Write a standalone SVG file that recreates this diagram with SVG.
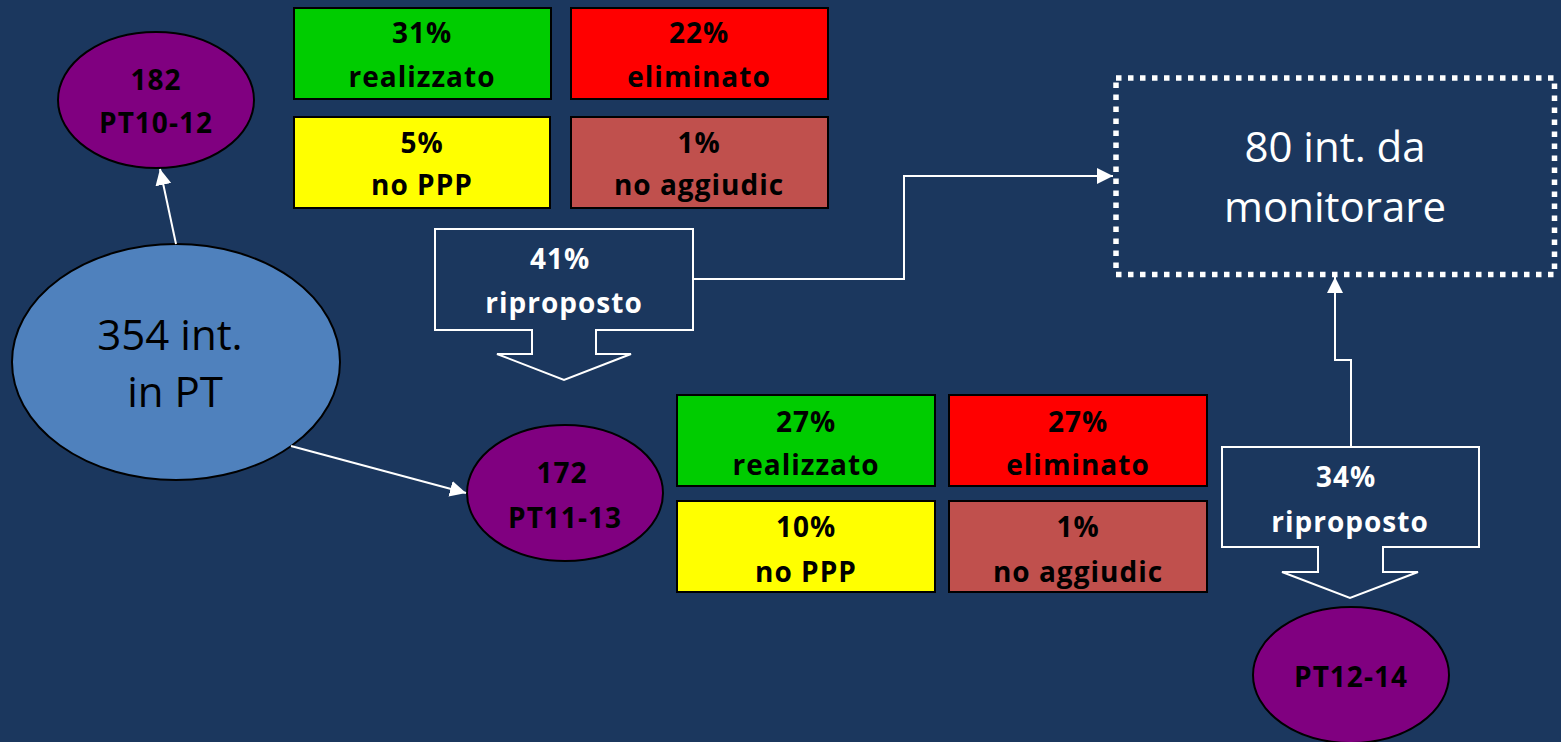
<svg xmlns="http://www.w3.org/2000/svg" width="1561" height="742" viewBox="0 0 1561 742">
<defs>
<style>
.bg{fill:#1b375e}
.ell{stroke:#000;stroke-width:2}
.pur{fill:#800080}
.box{stroke:#000;stroke-width:2}
.b{font-family:"Open Sans","Noto Sans","Liberation Sans",sans-serif;font-weight:bold;font-size:28px;letter-spacing:1px;text-anchor:middle;fill:#000}
.w{fill:#fff}
.n{font-family:"Open Sans","Noto Sans","Liberation Sans",sans-serif;font-size:42px;text-anchor:middle}
.con{fill:none;stroke:#fff;stroke-width:2}
.ar{fill:#1b375e;stroke:#fff;stroke-width:2}
</style>
<marker id="ah2" viewBox="0 0 10 10" refX="10" refY="5" markerWidth="16" markerHeight="16" markerUnits="userSpaceOnUse" orient="auto">
<path d="M0,0 L10,5 L0,10 z" fill="#fff"/>
</marker>
</defs>
<rect class="bg" x="0" y="0" width="1561" height="742"/>

<g id="n354">
<ellipse class="ell" cx="176" cy="362" rx="164" ry="118" fill="#4f81bd"/>
<text class="n" x="170" y="350" fill="#000">354 int.</text>
<text class="n" x="175" y="407" fill="#000">in PT</text>
</g>

<g id="n182">
<ellipse class="ell pur" cx="156" cy="100" rx="98" ry="68"/>
<text class="b" x="156" y="90">182</text>
<text class="b" x="156" y="133">PT10-12</text>
</g>

<g id="n172">
<ellipse class="ell pur" cx="565" cy="493" rx="98" ry="68"/>
<text class="b" x="562" y="483">172</text>
<text class="b" x="565" y="528">PT11-13</text>
</g>

<g id="n1214">
<ellipse class="ell pur" cx="1351" cy="675" rx="98" ry="68"/>
<text class="b" x="1351" y="687">PT12-14</text>
</g>

<g id="connectors">
<line class="con" x1="176" y1="244" x2="160" y2="169" marker-end="url(#ah2)"/>
<line class="con" x1="291" y1="446" x2="466" y2="493" marker-end="url(#ah2)"/>
<polyline class="con" points="693,279 904,279 904,176 1113,176" marker-end="url(#ah2)"/>
<polyline class="con" points="1351,447 1351,360 1335,360 1335,277" marker-end="url(#ah2)"/>
</g>

<g id="b1g">
<rect class="box" x="294" y="8" width="257" height="91" fill="#00cc00"/>
<text class="b" x="422" y="43">31%</text>
<text class="b" x="422" y="87">realizzato</text>
</g>
<g id="b1r">
<rect class="box" x="571" y="8" width="257" height="91" fill="#ff0000"/>
<text class="b" x="699" y="43">22%</text>
<text class="b" x="699" y="87">eliminato</text>
</g>
<g id="b1y">
<rect class="box" x="294" y="117" width="256" height="91" fill="#ffff00"/>
<text class="b" x="422" y="153">5%</text>
<text class="b" x="422" y="195">no PPP</text>
</g>
<g id="b1b">
<rect class="box" x="571" y="117" width="257" height="91" fill="#c0504d"/>
<text class="b" x="699" y="153">1%</text>
<text class="b" x="699" y="195">no aggiudic</text>
</g>

<g id="b2g">
<rect class="box" x="677" y="395" width="258" height="91" fill="#00cc00"/>
<text class="b" x="806" y="432">27%</text>
<text class="b" x="806" y="475">realizzato</text>
</g>
<g id="b2r">
<rect class="box" x="949" y="395" width="258" height="91" fill="#ff0000"/>
<text class="b" x="1078" y="432">27%</text>
<text class="b" x="1078" y="475">eliminato</text>
</g>
<g id="b2y">
<rect class="box" x="677" y="501" width="258" height="91" fill="#ffff00"/>
<text class="b" x="806" y="537">10%</text>
<text class="b" x="806" y="582">no PPP</text>
</g>
<g id="b2b">
<rect class="box" x="949" y="501" width="258" height="91" fill="#c0504d"/>
<text class="b" x="1078" y="537">1%</text>
<text class="b" x="1078" y="582">no aggiudic</text>
</g>

<g id="rip1">
<path class="ar" d="M435,229 H693 V330 H596 V354 H631 L564,380 L497,354 H532 V330 H435 Z"/>
<text class="b w" x="560" y="269">41%</text>
<text class="b w" x="564" y="313">riproposto</text>
</g>

<g id="rip2">
<path class="ar" d="M1222,447 H1479 V547 H1383 V572 H1418 L1350,598 L1282,572 H1318 V547 H1222 Z"/>
<text class="b w" x="1346" y="487">34%</text>
<text class="b w" x="1350" y="532">riproposto</text>
</g>

<g id="monitor">
<rect x="1116" y="78" width="438.5" height="196.5" fill="none" stroke="#fff" stroke-width="5.5" stroke-dasharray="5.5 6.5"/>
<text class="n" x="1335" y="162" fill="#fff">80 int. da</text>
<text class="n" x="1335" y="222" fill="#fff">monitorare</text>
</g>
</svg>
